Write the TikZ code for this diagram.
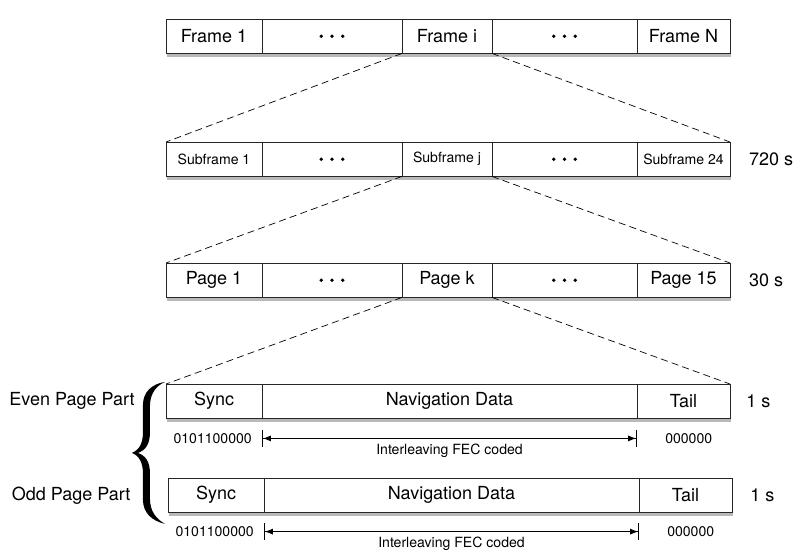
\documentclass[tikz,border=0pt]{standalone}
\usepackage{fontspec}
\setmainfont{TeX Gyre Heros}
\usepackage{tikz}
\usetikzlibrary{positioning, shadows, arrows.meta}

\newcommand{\bigtxt}{\fontsize{12.8}{15}\selectfont}
\newcommand{\smalltxt}{\fontsize{10}{12}\selectfont}

\tikzset{
	cell/.style={draw=black!85, line width=0.6pt, fill=white, minimum height=0.86cm, inner sep=0pt, outer sep=0pt, font=\bigtxt, drop shadow={shadow xshift=0.5pt, shadow yshift=-2.2pt, opacity=0.55}},
	subcell/.style={cell, font=\smalltxt},
	zoomline/.style={dash pattern=on 5pt off 3pt, line width=0.5pt},
	span/.style={line width=0.6pt, {Bar[width=0.425cm]Latex[length=0.2cm,width=0.15cm]}-{Latex[length=0.2cm,width=0.15cm]Bar[width=0.425cm]}},
	note/.style={inner sep=0pt, font=\smalltxt},
	dur/.style={inner sep=0pt, font=\bigtxt},
}

\begin{document}
\begin{tikzpicture}
\useasboundingbox (0,0) rectangle (20,-13.9);

% frames
\node[cell, minimum width=2.4cm, anchor=north west] (f1) at (4.15,-0.475) {Frame 1};
\node[cell, minimum width=3.5cm, right=0pt of f1] (fd1) {};
\node[cell, minimum width=2.25cm, right=0pt of fd1] (fi) {Frame i};
\node[cell, minimum width=3.625cm, right=0pt of fi] (fd2) {};
\node[cell, minimum width=2.325cm, right=0pt of fd2] (fN) {Frame N};

% subframes
\node[subcell, minimum width=2.4cm, anchor=north west] (s1) at (4.15,-3.55) {Subframe 1};
\node[subcell, minimum width=3.5cm, right=0pt of s1] (sd1) {};
\node[subcell, minimum width=2.25cm, right=0pt of sd1] (sj) {Subframe j};
\node[subcell, minimum width=3.625cm, right=0pt of sj] (sd2) {};
\node[subcell, minimum width=2.325cm, right=0pt of sd2] (s24) {Subframe 24};

% pages
\node[cell, minimum width=2.4cm, anchor=north west] (p1) at (4.15,-6.575) {Page 1};
\node[cell, minimum width=3.5cm, right=0pt of p1] (pd1) {};
\node[cell, minimum width=2.25cm, right=0pt of pd1] (pk) {Page k};
\node[cell, minimum width=3.625cm, right=0pt of pk] (pd2) {};
\node[cell, minimum width=2.325cm, right=0pt of pd2] (p15) {Page 15};

% even and odd page parts
\node[cell, minimum width=2.4cm, anchor=north west] (es) at (4.15,-9.6) {Sync};
\node[cell, minimum width=9.375cm, right=0pt of es] (en) {Navigation Data};
\node[cell, minimum width=2.325cm, right=0pt of en] (et) {Tail};

\node[cell, minimum width=2.4cm, anchor=north west] (os) at (4.2,-11.95) {Sync};
\node[cell, minimum width=9.375cm, right=0pt of os] (on) {Navigation Data};
\node[cell, minimum width=2.325cm, right=0pt of on] (ot) {Tail};

\foreach \c in {fd1,fd2,sd1,sd2,pd1,pd2}{
	\foreach \a in {-1,0,1}{
		\fill ([xshift=\a*0.27cm]\c.center) circle (0.047);
	}
}

% zoom lines
\draw[zoomline] (fi.south west) -- (s1.north west);
\draw[zoomline] (fi.south east) -- (s24.north east);
\draw[zoomline] (sj.south west) -- (p1.north west);
\draw[zoomline] (sj.south east) -- (p15.north east);
\draw[zoomline] (pk.south west) -- (es.north west);
\draw[zoomline] (pk.south east) -- (et.north east);

% durations
\node[dur, right=0.47cm of s24] (t720) {720 s};
\node[dur, right=0.47cm of p15] (t30) {30 s};
\node[dur, right=0.4cm of et] (t1e) {1 s};
\node[dur, right=0.45cm of ot] (t1o) {1 s};

% coded spans
\coordinate[below=0.5cm of es.south east] (ea);
\coordinate[below=0.5cm of et.south west] (eb);
\draw[span] (ea) -- node[note, below=0.12cm] (efec) {Interleaving FEC coded} (eb);
\node[note, left=0.25cm of ea] (ebits) {0101100000};
\node[note, right=0.7cm of eb] (etbits) {000000};

\coordinate[below=0.48cm of os.south east] (oa);
\coordinate[below=0.48cm of ot.south west] (ob);
\draw[span] (oa) -- node[note, below=0.12cm] (ofec) {Interleaving FEC coded} (ob);
\node[note, left=0.25cm of oa] (obits) {0101100000};
\node[note, right=0.7cm of ob] (otbits) {000000};

% brace and labels
\node[dur] (evenlab) at (1.8,-10.025) {Even Page Part};
\node[dur] (oddlab) at (1.78,-12.39) {Odd Page Part};

\begin{scope}[x=0.025cm, y=-0.025cm]
\fill (165,382) .. controls (152,384) and (143,392) .. (143,405) -- (143,432)
	.. controls (143,444) and (139,450) .. (132,453)
	.. controls (139,456) and (143,462) .. (143,474) -- (143,500)
	.. controls (143,513) and (152,521) .. (165,524)
	.. controls (156,519) and (150,511) .. (150,499) -- (150,474)
	.. controls (150,462) and (146,456) .. (138,453)
	.. controls (146,450) and (150,444) .. (150,432) -- (150,406)
	.. controls (150,394) and (156,386) .. (165,382) -- cycle;
\end{scope}

\end{tikzpicture}
\end{document}
